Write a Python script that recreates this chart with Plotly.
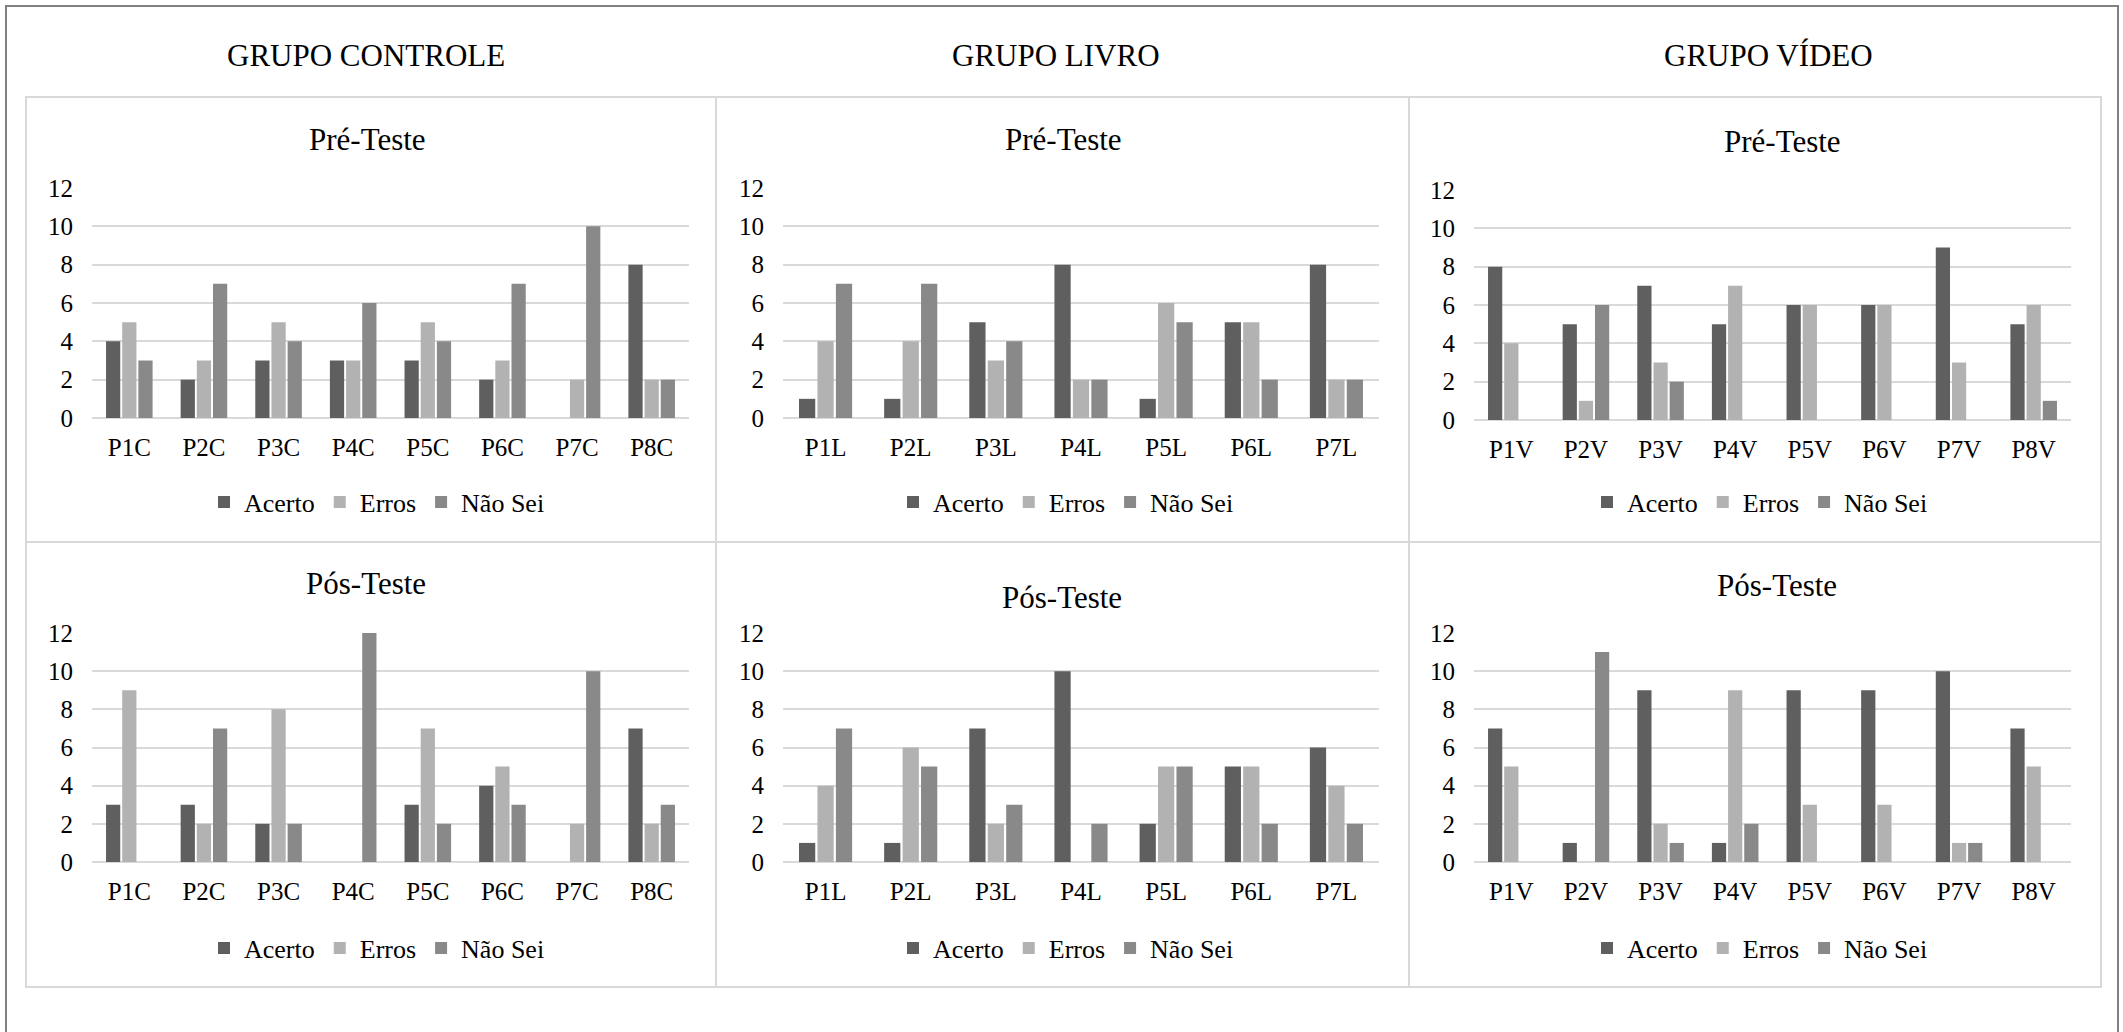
import plotly.graph_objects as go

W, H = 2123, 1032

# ---- data -------------------------------------------------------------
series_names = ["Acerto", "Erros", "Não Sei"]
series_colors = ["#5f5f5f", "#b2b2b2", "#898989"]

group_titles = ["GRUPO CONTROLE", "GRUPO LIVRO", "GRUPO VÍDEO"]
phase_titles = ["Pré-Teste", "Pós-Teste"]

cat_controle = ["P1C", "P2C", "P3C", "P4C", "P5C", "P6C", "P7C", "P8C"]
cat_livro = ["P1L", "P2L", "P3L", "P4L", "P5L", "P6L", "P7L"]
cat_video = ["P1V", "P2V", "P3V", "P4V", "P5V", "P6V", "P7V", "P8V"]

controle_pre_acerto = [4, 2, 3, 3, 3, 2, 0, 8]
controle_pre_erros = [5, 3, 5, 3, 5, 3, 2, 2]
controle_pre_naosei = [3, 7, 4, 6, 4, 7, 10, 2]

livro_pre_acerto = [1, 1, 5, 8, 1, 5, 8]
livro_pre_erros = [4, 4, 3, 2, 6, 5, 2]
livro_pre_naosei = [7, 7, 4, 2, 5, 2, 2]

video_pre_acerto = [8, 5, 7, 5, 6, 6, 9, 5]
video_pre_erros = [4, 1, 3, 7, 6, 6, 3, 6]
video_pre_naosei = [0, 6, 2, 0, 0, 0, 0, 1]

controle_pos_acerto = [3, 3, 2, 0, 3, 4, 0, 7]
controle_pos_erros = [9, 2, 8, 0, 7, 5, 2, 2]
controle_pos_naosei = [0, 7, 2, 12, 2, 3, 10, 3]

livro_pos_acerto = [1, 1, 7, 10, 2, 5, 6]
livro_pos_erros = [4, 6, 2, 0, 5, 5, 4]
livro_pos_naosei = [7, 5, 3, 2, 5, 2, 2]

video_pos_acerto = [7, 1, 9, 1, 9, 9, 10, 7]
video_pos_erros = [5, 0, 2, 9, 3, 3, 1, 5]
video_pos_naosei = [0, 11, 1, 2, 0, 0, 1, 0]

y_ticks = [0, 2, 4, 6, 8, 10, 12]

# ---- layout geometry (pixels) ------------------------------------------
FONT = "Liberation Serif"


def px(x):
    return x / W


def py(y):
    return 1 - y / H


# panel frames: x ranges per column, y ranges per row
col_frames = [(26, 716), (716, 1409), (1409, 2101)]
row_frames = [(97, 542), (542, 987)]

# plot areas inside each frame
col_plot_x = [(92, 689), (783, 1379), (1474, 2071)]
row_plot_y = [[(188, 418), (188, 418), (190, 420)],
              [(633, 862), (633, 862), (633, 862)]]

group_title_x = [366, 1056, 1768]
phase_title_pos = [[(367, 139), (1063, 139), (1782, 141)],
                   [(366, 583), (1062, 597), (1777, 585)]]
legend_pos = [[(377, 502), (1066, 502), (1760, 502)],
              [(377, 948), (1066, 948), (1760, 948)]]

panels = [
    [(cat_controle, [controle_pre_acerto, controle_pre_erros, controle_pre_naosei]),
     (cat_livro, [livro_pre_acerto, livro_pre_erros, livro_pre_naosei]),
     (cat_video, [video_pre_acerto, video_pre_erros, video_pre_naosei])],
    [(cat_controle, [controle_pos_acerto, controle_pos_erros, controle_pos_naosei]),
     (cat_livro, [livro_pos_acerto, livro_pos_erros, livro_pos_naosei]),
     (cat_video, [video_pos_acerto, video_pos_erros, video_pos_naosei])],
]

fig = go.Figure()
layout_extra = {}
shapes = []
annotations = []

# outer frame
shapes.append(dict(type="rect", xref="paper", yref="paper",
                   x0=px(6), x1=px(2118), y0=py(1045), y1=py(6),
                   line=dict(color="#808080", width=2), layer="below"))

for g, title in enumerate(group_titles):
    annotations.append(dict(text=title, x=px(group_title_x[g]), y=py(56),
                            xref="paper", yref="paper", showarrow=False,
                            xanchor="center", yanchor="middle",
                            font=dict(family=FONT, size=31, color="#000000")))

idx = 0
for r in range(2):
    for c in range(3):
        idx += 1
        sfx = "" if idx == 1 else str(idx)
        cats, values = panels[r][c]
        leg = "legend" + sfx
        for name, color, vals in zip(series_names, series_colors, values):
            fig.add_trace(go.Bar(
                x=cats, y=vals, name=name,
                marker=dict(color=color, line=dict(width=0)),
                xaxis="x" + sfx, yaxis="y" + sfx,
                legend=leg, showlegend=True,
            ))

        x0, x1 = col_plot_x[c]
        ytop, ybot = row_plot_y[r][c]
        layout_extra["xaxis" + sfx] = dict(
            domain=[px(x0), px(x1)], anchor="y" + sfx, automargin=False,
            showline=False, showgrid=False, ticks="", zeroline=False,
            tickfont=dict(family=FONT, size=25, color="#000000"),
            ticklabelstandoff=12, fixedrange=True,
        )
        layout_extra["yaxis" + sfx] = dict(
            domain=[py(ybot), py(ytop)], anchor="x" + sfx, automargin=False,
            range=[0, 12], tickvals=y_ticks, showline=False, ticks="",
            showgrid=True, gridcolor="#d9d9d9", gridwidth=2,
            zeroline=True, zerolinecolor="#d9d9d9", zerolinewidth=2,
            tickfont=dict(family=FONT, size=25, color="#000000"),
            ticklabelstandoff=18, fixedrange=True,
        )
        lx, ly = legend_pos[r][c]
        layout_extra[leg] = dict(
            orientation="h", x=px(lx), y=py(ly),
            xanchor="center", yanchor="middle",
            font=dict(family=FONT, size=26, color="#000000"),
            bgcolor="rgba(0,0,0,0)", itemclick=False, itemdoubleclick=False,
            traceorder="normal",
        )

        fx0, fx1 = col_frames[c]
        fy0, fy1 = row_frames[r]
        shapes.append(dict(type="rect", xref="paper", yref="paper",
                           x0=px(fx0), x1=px(fx1), y0=py(fy1), y1=py(fy0),
                           line=dict(color="#d9d9d9", width=2), layer="below"))

        tx, ty = phase_title_pos[r][c]
        annotations.append(dict(text=phase_titles[r], x=px(tx), y=py(ty),
                                xref="paper", yref="paper", showarrow=False,
                                xanchor="center", yanchor="middle",
                                font=dict(family=FONT, size=31, color="#000000")))

fig.update_layout(
    width=W, height=H,
    margin=dict(l=0, r=0, t=0, b=0, pad=0, autoexpand=False),
    paper_bgcolor="#ffffff", plot_bgcolor="rgba(0,0,0,0)",
    barmode="group", bargap=0.35, bargroupgap=0.12,
    shapes=shapes, annotations=annotations,
    font=dict(family=FONT, color="#000000"),
    **layout_extra,
)

fig.write_html("out.html", config={"displayModeBar": False})
